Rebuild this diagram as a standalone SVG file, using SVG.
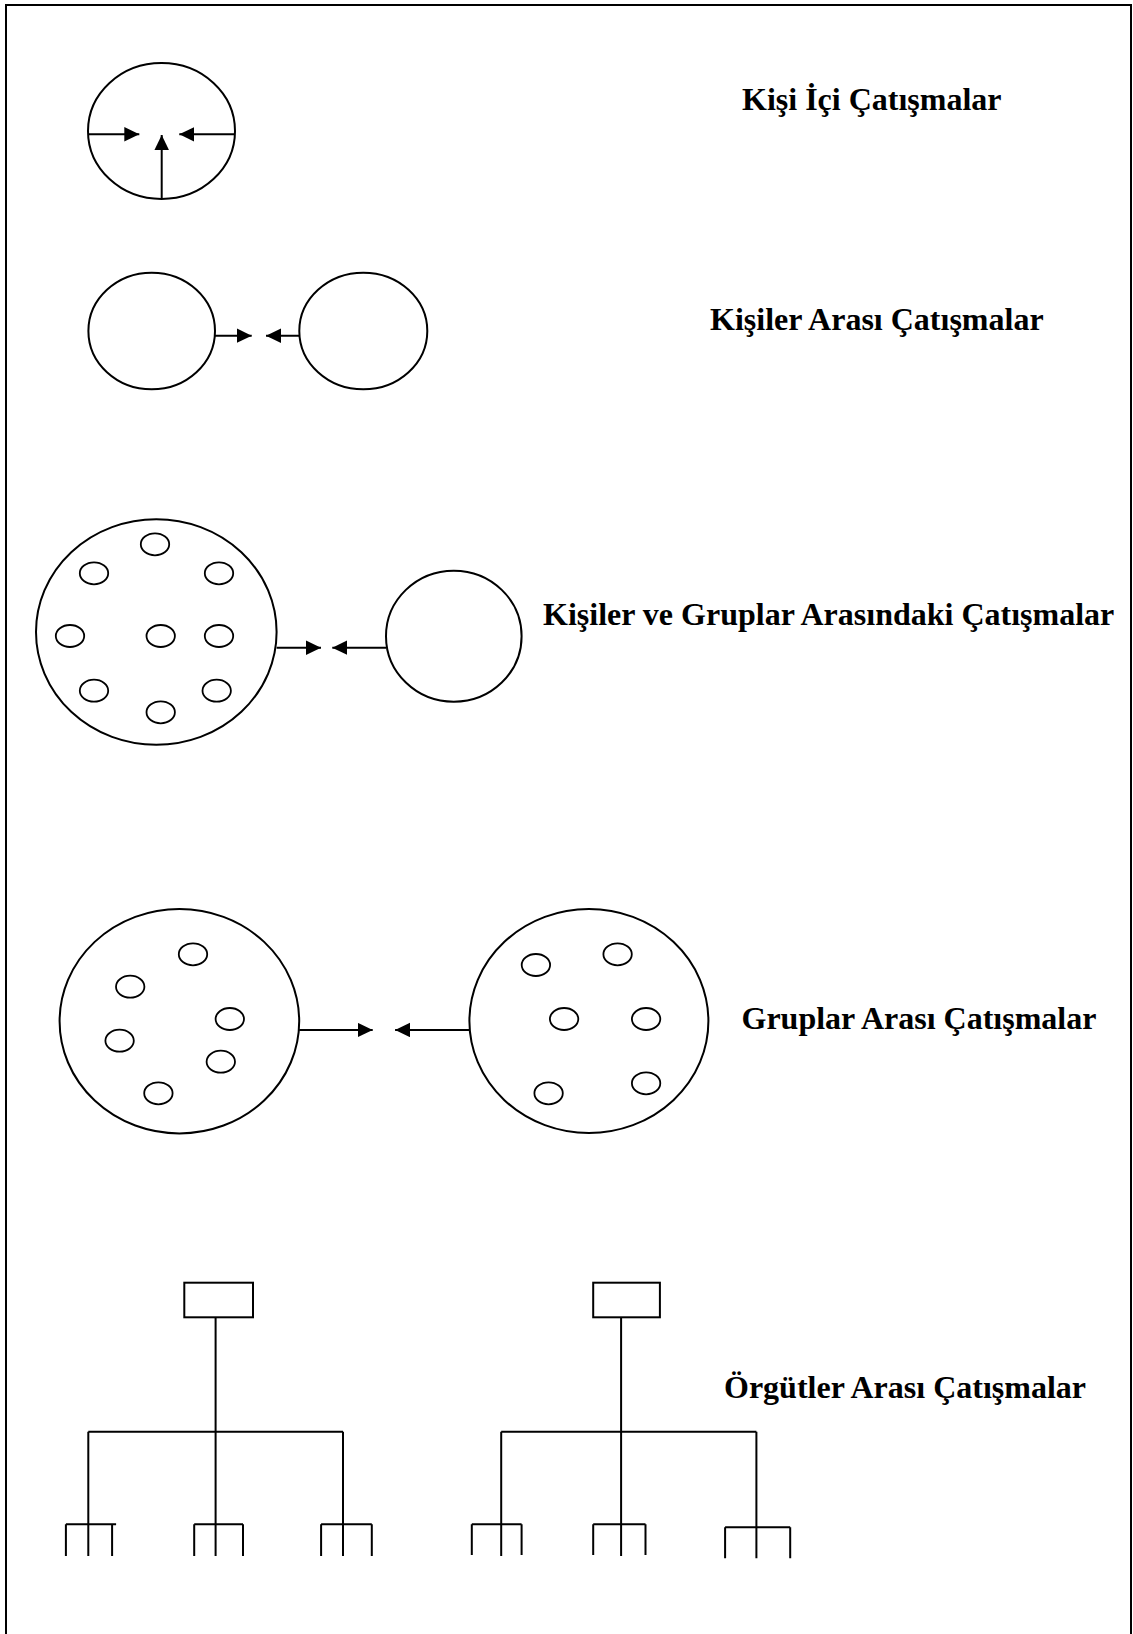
<svg xmlns="http://www.w3.org/2000/svg" width="1133" height="1634" viewBox="0 0 1133 1634">
  <style>
    .shape { fill: #fff; stroke: #000; stroke-width: 2; }
    .dot { fill: none; stroke: #000; stroke-width: 1.8; }
    .ln { fill: none; stroke: #000; stroke-width: 2; }
    .arr { fill: none; stroke: #000; stroke-width: 2; marker-end: url(#head); }
    .label { font-family: "Liberation Serif", "Times New Roman", serif; font-weight: bold; font-size: 32px; fill: #000; }
  </style>
  <defs>
    <marker id="head" markerUnits="userSpaceOnUse" markerWidth="16" markerHeight="15" refX="15" refY="7.25" orient="auto">
      <path d="M0,0 L15,7.25 L0,14.5 Z" fill="#000"/>
    </marker>
  </defs>

  <rect width="1133" height="1634" fill="#fff"/>
  <!-- page frame, open at the bottom -->
  <path d="M6,1640 V5 H1131 V1640" fill="none" stroke="#000" stroke-width="2"/>

  <!-- row 1: intrapersonal -->
  <g id="node-self">
    <ellipse class="shape" cx="161.5" cy="131" rx="73.5" ry="68"/>
  </g>

  <!-- row 2: interpersonal -->
  <g id="node-person-a">
    <ellipse class="shape" cx="151.7" cy="331" rx="63.3" ry="58.3"/>
  </g>
  <g id="node-person-b">
    <ellipse class="shape" cx="363.3" cy="331" rx="64" ry="58.3"/>
  </g>

  <!-- row 3: person vs group -->
  <g id="node-group-1">
    <ellipse class="shape" cx="156.3" cy="632" rx="120.3" ry="112.8"/>
    <ellipse class="dot" cx="155" cy="544.3" rx="14.2" ry="11"/>
    <ellipse class="dot" cx="94" cy="573.3" rx="14.2" ry="11"/>
    <ellipse class="dot" cx="219" cy="573.3" rx="14.2" ry="11"/>
    <ellipse class="dot" cx="70" cy="636" rx="14.2" ry="11"/>
    <ellipse class="dot" cx="160.7" cy="636" rx="14.2" ry="11"/>
    <ellipse class="dot" cx="219" cy="636" rx="14.2" ry="11"/>
    <ellipse class="dot" cx="94" cy="690.7" rx="14.2" ry="11"/>
    <ellipse class="dot" cx="216.7" cy="690.7" rx="14.2" ry="11"/>
    <ellipse class="dot" cx="160.7" cy="712.3" rx="14.2" ry="11"/>
  </g>
  <g id="node-person-c">
    <ellipse class="shape" cx="453.8" cy="636.2" rx="67.8" ry="65.5"/>
  </g>

  <!-- row 4: intergroup -->
  <g id="node-group-2">
    <ellipse class="shape" cx="179.4" cy="1021.2" rx="119.8" ry="112.2"/>
    <ellipse class="dot" cx="193" cy="954.3" rx="14.2" ry="11"/>
    <ellipse class="dot" cx="130.2" cy="986.7" rx="14.2" ry="11"/>
    <ellipse class="dot" cx="229.8" cy="1019" rx="14.2" ry="11"/>
    <ellipse class="dot" cx="119.6" cy="1040.7" rx="14.2" ry="11"/>
    <ellipse class="dot" cx="220.8" cy="1061.7" rx="14.2" ry="11"/>
    <ellipse class="dot" cx="158.4" cy="1093.3" rx="14.2" ry="11"/>
  </g>
  <g id="node-group-3">
    <ellipse class="shape" cx="588.9" cy="1021" rx="119.5" ry="112"/>
    <ellipse class="dot" cx="535.9" cy="965" rx="14.2" ry="11"/>
    <ellipse class="dot" cx="617.6" cy="954.3" rx="14.2" ry="11"/>
    <ellipse class="dot" cx="564.1" cy="1019" rx="14.2" ry="11"/>
    <ellipse class="dot" cx="646.1" cy="1019" rx="14.2" ry="11"/>
    <ellipse class="dot" cx="548.6" cy="1093.3" rx="14.2" ry="11"/>
    <ellipse class="dot" cx="646.1" cy="1083.3" rx="14.2" ry="11"/>
  </g>

  <!-- row 5: organisation charts -->
  <g id="node-org-a">
    <rect class="shape" x="184.3" y="1282.7" width="68.7" height="34.6"/>
  </g>
  <g id="node-org-b">
    <rect class="shape" x="593.2" y="1282.7" width="66.7" height="34.6"/>
  </g>

  <g id="connectors">
    <!-- row 1 -->
    <line class="arr" x1="88" y1="134.3" x2="139.3" y2="134.3"/>
    <line class="arr" x1="235" y1="134.3" x2="179.3" y2="134.3"/>
    <line class="arr" x1="161.7" y1="199" x2="161.7" y2="135"/>
    <!-- row 2 -->
    <line class="arr" x1="215" y1="335.7" x2="251.7" y2="335.7"/>
    <line class="arr" x1="299.3" y1="335.7" x2="266" y2="335.7"/>
    <!-- row 3 -->
    <line class="arr" x1="276.6" y1="647.7" x2="321" y2="647.7"/>
    <line class="arr" x1="386" y1="647.7" x2="332.3" y2="647.7"/>
    <!-- row 4 -->
    <line class="arr" x1="299.2" y1="1030" x2="372.7" y2="1030"/>
    <line class="arr" x1="469.4" y1="1030" x2="395.1" y2="1030"/>

    <!-- left chart -->
    <path class="ln" d="M215.6,1317.3 V1556 M88.3,1431.7 H343 M88.3,1431.7 V1556 M343,1431.7 V1556"/>
    <path class="ln" d="M65.9,1524.3 H116.1 M65.9,1524.3 V1556 M112.1,1524.3 V1556"/>
    <path class="ln" d="M194.2,1524.3 H243 M194.2,1524.3 V1556 M243,1524.3 V1556"/>
    <path class="ln" d="M321.1,1524.3 H371.8 M321.1,1524.3 V1556 M371.8,1524.3 V1556"/>
    <!-- right chart -->
    <path class="ln" d="M621.1,1317.3 V1556 M501.2,1431.7 H756.4 M501.2,1431.7 V1556 M756.4,1431.7 V1558.3"/>
    <path class="ln" d="M471.8,1524.3 H521.6 M471.8,1524.3 V1555 M521.6,1524.3 V1555"/>
    <path class="ln" d="M593.2,1524.3 H645.5 M593.2,1524.3 V1555 M645.5,1524.3 V1555"/>
    <path class="ln" d="M725.1,1527.3 H790.2 M725.1,1527.3 V1558.3 M790.2,1527.3 V1558.3"/>
  </g>

  <g id="label-intrapersonal"><text class="label" x="742" y="110">Kişi İçi Çatışmalar</text></g>
  <g id="label-interpersonal"><text class="label" x="710" y="330">Kişiler Arası Çatışmalar</text></g>
  <g id="label-person-group"><text class="label" x="543" y="625">Kişiler ve Gruplar Arasındaki Çatışmalar</text></g>
  <g id="label-intergroup"><text class="label" x="741.5" y="1029">Gruplar Arası Çatışmalar</text></g>
  <g id="label-interorg"><text class="label" x="724" y="1398">Örgütler Arası Çatışmalar</text></g>
</svg>
